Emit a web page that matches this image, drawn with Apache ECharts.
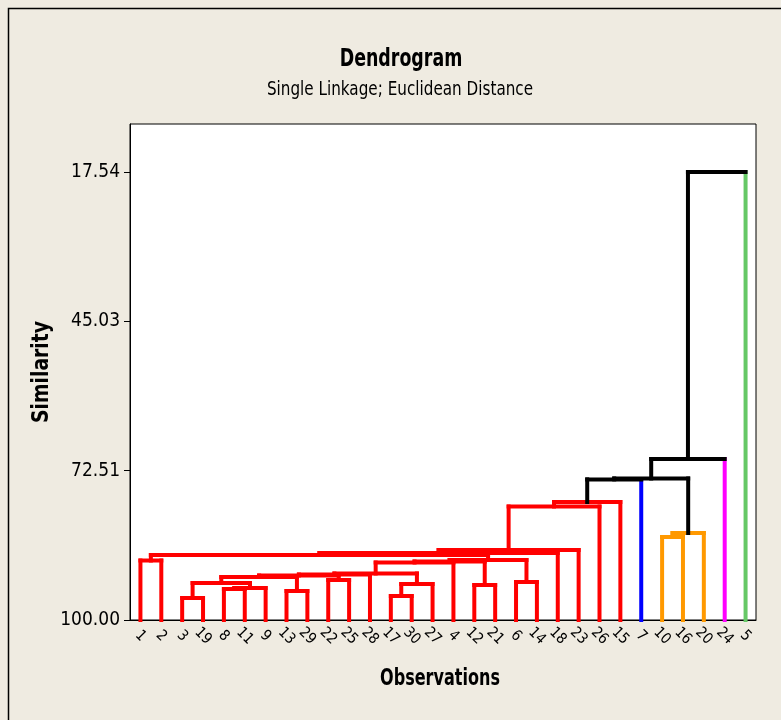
<!DOCTYPE html>
<html><head><meta charset="utf-8">
<script src="https://cdn.jsdelivr.net/npm/echarts@6/dist/echarts.min.js"></script>
<style>html,body{margin:0;padding:0;background:#EFEBE1;}#c{width:781px;height:720px;}</style>
</head><body><div id="c"></div>
<script>
// Leaf order along the x axis (observation numbers)
const leafOrder = [1,2,3,19,8,11,9,13,29,22,25,28,17,30,27,4,12,21,6,14,18,23,26,15,7,10,16,20,24,5];
// Leaf groups (colour clusters); all other leaves are red
const orangeLeaves = [10,16,20];
const blueLeaves = [7];
const magentaLeaves = [24];
const greenLeaves = [5];
// Merge steps: left child, right child, similarity level, group ("o#" = observation, "c#" = earlier merge)
const mergeLeft  = ['o3','o17','o13','o8','c3','o12','c1','c0','o6','o22','c7','c10','c11','c12','c13','c14','o1','c15','c16','c18','c19','o10','c21','c20','c23','c24','c25','c26','c27'];
const mergeRight = ['o19','o30','o29','o11','o9','o21','o27','c4','o14','o25','c2','c9','o28','c6','o4','c5','o2','c8','c17','o18','o23','o16','o20','o26','o15','o7','c22','o24','o5'];
const mergeSim   = [95.95,95.58,94.66,94.29,94.11,93.56,93.37,93.19,93.01,92.64,92.09,91.81,91.63,91.44,89.42,89.23,89.05,88.96,88.04,87.67,87.12,84.72,83.99,79.11,78.28,74.12,73.95,70.37,17.54];
const mergeGroup = ['R','R','R','R','R','R','R','R','R','R','R','R','R','R','R','R','R','R','R','R','R','O','O','R','R','K','K','K','K'];
// Y-axis tick labels
const yTicks = [17.54,45.03,72.51,100.00];

const palette = {R:'#FF0000', O:'#FF9900', B:'#0000FF', M:'#FF00FF', G:'#66C866', K:'#000000'};
const paletteKeys = Object.keys(palette);
function leafGroup(n){
  if (orangeLeaves.includes(n)) return 'O';
  if (blueLeaves.includes(n)) return 'B';
  if (magentaLeaves.includes(n)) return 'M';
  if (greenLeaves.includes(n)) return 'G';
  return 'R';
}
const pos = {}, lvl = {};
leafOrder.forEach((n,i)=>{ pos['o'+n]=i; lvl['o'+n]=100; });
const segs = [];
mergeLeft.forEach((l,k)=>{
  const r = mergeRight[k], h = mergeSim[k], g = mergeGroup[k];
  [l,r].forEach(ch=>{
    const cg = ch[0]==='o' ? leafGroup(+ch.slice(1)) : g;
    segs.push([pos[ch], lvl[ch], pos[ch], h, paletteKeys.indexOf(cg)]);
  });
  segs.push([pos[l], h, pos[r], h, paletteKeys.indexOf(g)]);
  pos['c'+k] = (pos[l]+pos[r])/2; lvl['c'+k] = h;
});

const FONT = "'DejaVu Sans Condensed','Liberation Sans Narrow',sans-serif";
const chart = echarts.init(document.getElementById('c'));
chart.setOption({
  backgroundColor:'#EFEBE1',
  animation:false,
  grid:{left:130, right:25, top:124, bottom:100, show:true, backgroundColor:'#fff', borderColor:'#000', borderWidth:1},
  xAxis:[
    {type:'category', data:leafOrder.map(String), boundaryGap:true,
     axisLine:{lineStyle:{color:'#000', width:1}},
     axisTick:{alignWithLabel:true, length:7, lineStyle:{color:'#000'}},
     axisLabel:{rotate:-45, interval:0, margin:16, align:'center', verticalAlign:'middle', color:'#000', fontFamily:FONT, fontSize:15}},
    {type:'value', min:-0.5, max:29.5, show:false}
  ],
  yAxis:{type:'value', inverse:true, min:8.71, max:100,
    axisLine:{show:true, onZero:false, lineStyle:{color:'#000'}},
    splitLine:{show:false},
    axisTick:{show:true, length:6, customValues:yTicks, lineStyle:{color:'#000'}},
    axisLabel:{customValues:yTicks, formatter:v=>v.toFixed(2), color:'#000', fontFamily:FONT, fontSize:19, margin:10}
  },
  graphic:[
    {type:'rect', shape:{x:8.5,y:8.5,width:800,height:800}, style:{fill:'none', stroke:'#000', lineWidth:1.5}, silent:true},
    {type:'text', x:401, y:60, scaleX:0.88, scaleY:1.1, style:{text:'Dendrogram', fontFamily:FONT, fontWeight:'bold', fontSize:22, fill:'#000', align:'center', verticalAlign:'middle'}},
    {type:'text', x:400, y:90, scaleX:0.89, scaleY:1.05, style:{text:'Single Linkage; Euclidean Distance', fontFamily:FONT, fontSize:19, fill:'#000', align:'center', verticalAlign:'middle'}},
    {type:'text', x:42, y:372, rotation:Math.PI/2, scaleX:0.95, scaleY:1.05, style:{text:'Similarity', fontFamily:FONT, fontWeight:'bold', fontSize:22, fill:'#000', align:'center', verticalAlign:'middle'}},
    {type:'text', x:440, y:679, scaleX:0.85, scaleY:1.1, style:{text:'Observations', fontFamily:FONT, fontWeight:'bold', fontSize:21, fill:'#000', align:'center', verticalAlign:'middle'}}
  ],
  series:[{
    type:'custom', xAxisIndex:1, yAxisIndex:0, data:segs,
    encode:{x:[0,2], y:[1,3]},
    renderItem:(params, api)=>{
      const p1 = api.coord([api.value(0), api.value(1)]);
      const p2 = api.coord([api.value(2), api.value(3)]);
      return {type:'line', shape:{x1:p1[0],y1:p1[1],x2:p2[0],y2:p2[1]},
        style:{stroke:palette[paletteKeys[api.value(4)]], lineWidth:4, lineCap:'square'}};
    }
  }]
});
</script></body></html>
